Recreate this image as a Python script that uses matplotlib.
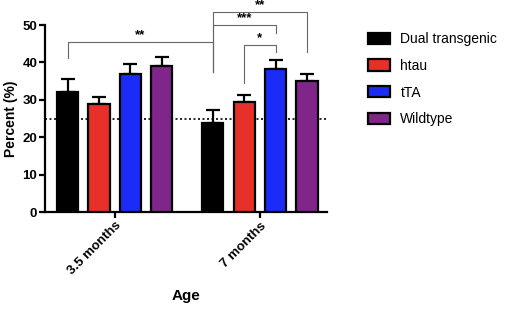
import matplotlib
matplotlib.use('Agg')
import matplotlib.pyplot as plt
import numpy as np

plt.rcParams['font.family'] = ['Liberation Sans', 'DejaVu Sans']

# data
groups = ['3.5 months', '7 months']
genotypes = ['Dual transgenic', 'htau', 'tTA', 'Wildtype']
colors = ['#000000', '#e8302a', '#1a2cf5', '#80268a']
means_35 = [32.2, 28.8, 37.0, 39.0]
means_7 = [23.8, 29.4, 38.3, 35.0]
sem_35 = [3.5, 2.0, 2.5, 2.4]
sem_7 = [3.6, 1.8, 2.3, 2.0]
chance = 25

gap = 1.63
width = 0.68
pos1 = np.arange(4)
pos2 = np.arange(4) + 3 + gap

fig = plt.figure(figsize=(5.1, 3.1), dpi=100)
ax = fig.add_axes([0.088, 0.316, 0.553, 0.603])

handles = []
for i in range(4):
    b = ax.bar([pos1[i], pos2[i]], [means_35[i], means_7[i]], width=width,
               color=colors[i], edgecolor='black', linewidth=1.6, zorder=3,
               label=genotypes[i])
    handles.append(b)
    ax.errorbar([pos1[i], pos2[i]], [means_35[i], means_7[i]],
                yerr=[[0, 0], [sem_35[i], sem_7[i]]], fmt='none',
                ecolor='black', elinewidth=1.6, capsize=5, capthick=1.6, zorder=2)

xmin, xmax = -0.73, 8.27
ax.axhline(chance, color='black', linestyle=(0, (1.2, 1.5)), linewidth=1.2, zorder=1)
ax.set_xlim(xmin, xmax)
ax.set_ylim(0, 50)
ax.set_yticks([0, 10, 20, 30, 40, 50])
ax.set_xticks([pos1.mean(), pos2.mean()])
ax.set_xticklabels(groups, rotation=45, ha='right', rotation_mode='anchor',
                   fontsize=9.5, fontweight='bold')
for t in ax.get_yticklabels():
    t.set_fontweight('bold')
    t.set_fontsize(9.5)
ax.tick_params(axis='both', width=1.6, length=4, pad=1.5)
for s in ['top', 'right']:
    ax.spines[s].set_visible(False)
for s in ['left', 'bottom']:
    ax.spines[s].set_linewidth(1.6)
ax.set_ylabel('Percent (%)', fontsize=10, fontweight='bold', labelpad=3)
ax.set_xlabel('Age', fontsize=11, fontweight='bold', labelpad=8)


# significance brackets
def bracket(x1, x2, y, y1, y2, text):
    ax.plot([x1, x1, x2, x2], [y1, y, y, y2], color='#666666', lw=0.8,
            clip_on=False, zorder=4)
    ax.text((x1 + x2) / 2, y + 0.2, text, ha='center', va='bottom',
            fontsize=9.5, fontweight='bold', clip_on=False)

bracket(pos1[0], pos2[0], 45.5, 41.2, 37.5, '**')
bracket(pos2[0], pos2[3], 53.6, 37.5, 42.9, '**')
bracket(pos2[0], pos2[2], 50.0, 37.5, 47.8, '***')
bracket(pos2[1], pos2[2], 44.6, 34.5, 42.9, '*')

leg = fig.legend(handles=handles, loc='upper left', bbox_to_anchor=(0.698, 0.937),
                 frameon=False, fontsize=10, handlelength=1.55, handleheight=0.85,
                 labelspacing=0.92, handletextpad=0.75)

fig.savefig('out.png', dpi=100)
